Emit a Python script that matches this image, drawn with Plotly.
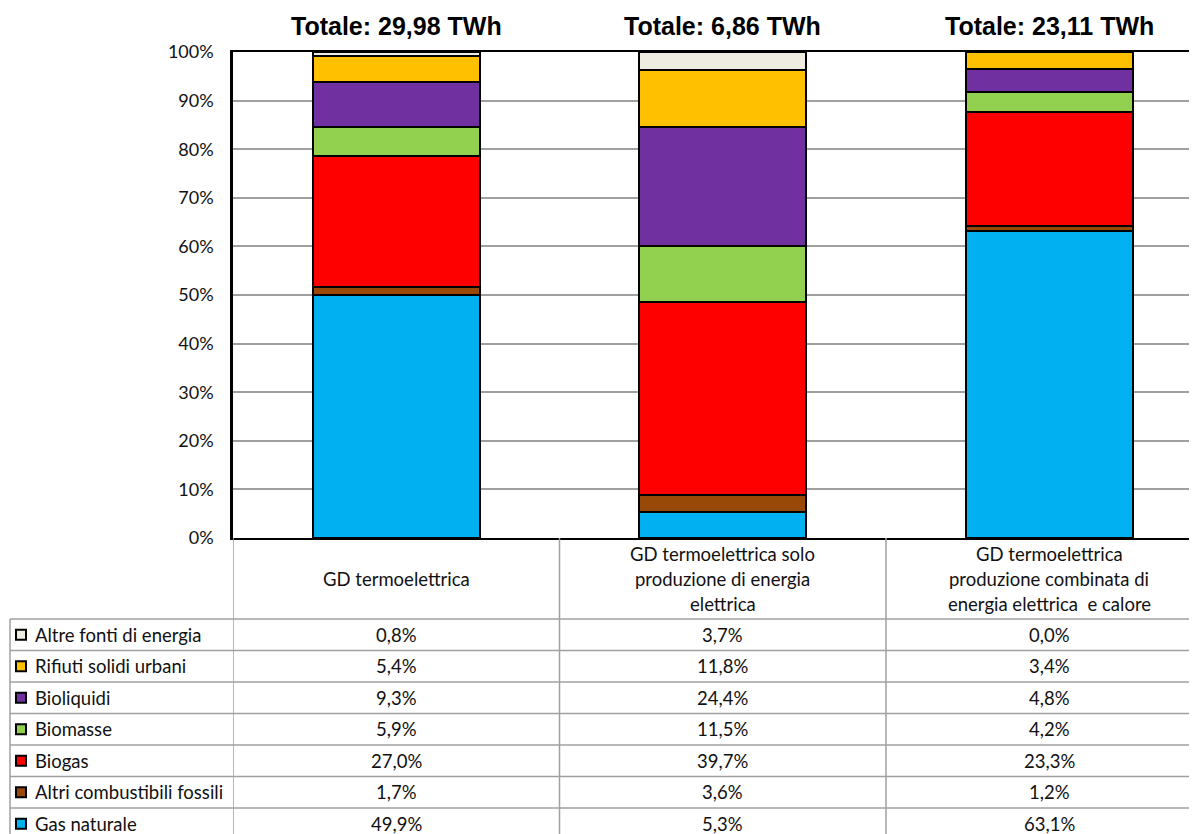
import plotly.graph_objects as go

categories = [
    "GD termoelettrica",
    "GD termoelettrica solo<br>produzione di energia<br>elettrica",
    "GD termoelettrica<br>produzione combinata di<br>energia elettrica  e calore",
]
cat_keys = ["A", "B", "C"]
totals = ["Totale: 29,98 TWh", "Totale: 6,86 TWh", "Totale: 23,11 TWh"]

# stacking order: bottom -> top
series_names = [
    "Gas naturale",
    "Altri combustibili fossili",
    "Biogas",
    "Biomasse",
    "Bioliquidi",
    "Rifiuti solidi urbani",
    "Altre fonti di energia",
]
gas_naturale = [49.9, 5.3, 63.1]
altri_fossili = [1.7, 3.6, 1.2]
biogas = [27.0, 39.7, 23.3]
biomasse = [5.9, 11.5, 4.2]
bioliquidi = [9.3, 24.4, 4.8]
rifiuti = [5.4, 11.8, 3.4]
altre_fonti = [0.8, 3.7, 0.0]
series_values = [gas_naturale, altri_fossili, biogas, biomasse, bioliquidi, rifiuti, altre_fonti]
colors = ["#00B0F0", "#984807", "#FF0000", "#92D050", "#7030A0", "#FFC000", "#EEECE1"]

y_tick_vals = list(range(0, 101, 10))
y_tick_text = [f"{v}%" for v in y_tick_vals]

OFF = 8  # page body margin
PAGE_W, PAGE_H = 1197, 834
W, H = PAGE_W - OFF, PAGE_H - OFF
# plot area in page pixels
L_PG, T_PG, B_PG = 233, 52, 538
L, T, B = L_PG - OFF, T_PG - OFF, B_PG - OFF
PW, PH = W - L, B - T

def px(p):  # page x -> paper
    return (p - OFF - L) / PW

def py(p):  # page y -> paper
    return (B - (p - OFF)) / PH

TFONT = "Lato"
TSIZE = 18.5
TCOLOR = "#111111"
GRID = "#A0A0A0"

fig = go.Figure()
for name, vals, col in zip(series_names, series_values, colors):
    fig.add_trace(go.Bar(
        x=cat_keys, y=vals, name=name, width=0.51,
        marker=dict(color=col, line=dict(color="black", width=2)),
    ))

shapes = []
annotations = []

# Totals above bars
for k, t in zip(cat_keys, totals):
    annotations.append(dict(
        x=k, xref="x", y=py(26), yref="paper", text=t, showarrow=False,
        xanchor="center", yanchor="middle",
        font=dict(family="Liberation Sans", size=25, color="black", weight="bold"),
    ))

# Table geometry (page pixels)
row_top = 619
row_h = 31.5
n_rows = len(series_names)

line_style = dict(color=GRID, width=1.5)
for xv in [-0.5, 0.5, 1.5]:
    shapes.append(dict(type="line", xref="x", yref="paper", x0=xv, x1=xv,
                       y0=py(B_PG), y1=py(PAGE_H + 5), line=line_style, layer="above"))
shapes.append(dict(type="line", xref="paper", yref="paper", x0=px(10), x1=px(10),
                   y0=py(row_top), y1=py(PAGE_H + 5), line=line_style))
for i in range(n_rows):
    yy = row_top + i * row_h
    shapes.append(dict(type="line", xref="paper", yref="paper", x0=px(10), x1=1.0,
                       y0=py(yy), y1=py(yy), line=line_style))

# header texts
for k, c in zip(cat_keys, categories):
    lines = c.split("<br>")
    n = len(lines)
    center = (B_PG + row_top) / 2
    for j, ln in enumerate(lines):
        yc = center + (j - (n - 1) / 2) * 25
        annotations.append(dict(
            x=k, xref="x", y=py(yc), yref="paper", text=ln, showarrow=False,
            xanchor="center", yanchor="middle",
            font=dict(family=TFONT, size=TSIZE, color=TCOLOR),
        ))

# rows (top row = last series)
for i, (name, vals, col) in enumerate(reversed(list(zip(series_names, series_values, colors)))):
    yc = row_top + i * row_h + row_h / 2
    shapes.append(dict(type="rect", xref="paper", yref="paper",
                       x0=px(16), x1=px(26), y0=py(yc - 5), y1=py(yc + 5),
                       fillcolor=col, line=dict(color="black", width=2)))
    annotations.append(dict(
        x=px(33), xref="paper", y=py(yc), yref="paper", text=name, showarrow=False,
        xanchor="left", yanchor="middle",
        font=dict(family=TFONT, size=TSIZE, color=TCOLOR),
    ))
    for k, v in zip(cat_keys, vals):
        annotations.append(dict(
            x=k, xref="x", y=py(yc), yref="paper",
            text=f"{v:.1f}%".replace(".", ","), showarrow=False,
            xanchor="center", yanchor="middle",
            font=dict(family=TFONT, size=TSIZE, color=TCOLOR),
        ))

fig.update_layout(
    width=W, height=H,
    margin=dict(l=L, r=0, t=T, b=H - B, pad=0, autoexpand=False),
    barmode="stack",
    showlegend=False,
    plot_bgcolor="white", paper_bgcolor="white",
    shapes=shapes, annotations=annotations,
    xaxis=dict(
        type="category", categoryorder="array", categoryarray=cat_keys,
        range=[-0.5, -0.5 + 3 * PW / 979.5],
        showticklabels=False, ticks="", showgrid=False,
        showline=True, linecolor="black", linewidth=2, mirror=True,
        fixedrange=True, automargin=False,
    ),
    yaxis=dict(
        range=[0, 100], tickvals=y_tick_vals, ticktext=y_tick_text,
        showgrid=True, gridcolor=GRID, gridwidth=1.5, zeroline=False,
        showline=True, linecolor="black", linewidth=2.5,
        ticks="", ticklabelstandoff=13,
        tickfont=dict(family=TFONT, size=18, color=TCOLOR),
        fixedrange=True, automargin=False,
    ),
)

fig.write_html("out.html")
